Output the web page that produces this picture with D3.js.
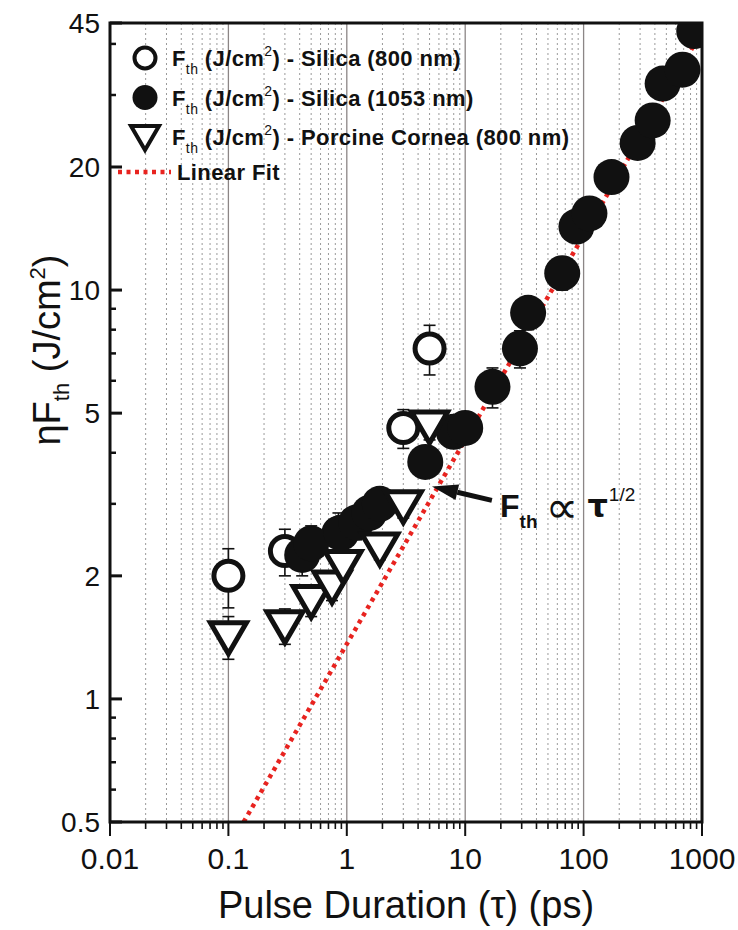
<!DOCTYPE html>
<html>
<head>
<meta charset="utf-8">
<script src="https://cdn.jsdelivr.net/npm/d3@7/dist/d3.min.js"></script>
<style>
  body { margin: 0; background: #fff; }
  text { font-family: "Liberation Sans", Arial, "DejaVu Sans", sans-serif; fill: #111; }
</style>
</head>
<body>
<div id="chart"></div>
<script>
// F_th (J/cm2) - Silica (800 nm), open circles
var silica800Tau = [0.1, 0.3, 0.85, 3, 5];
var silica800F   = [2.0, 2.3, 2.55, 4.6, 7.2];
var silica800Err = [0.33, 0.3, 0.3, 0.5, 1.0];

// F_th (J/cm2) - Silica (1053 nm), filled circles
var silica1053Tau = [0.42, 0.5, 0.9, 1.2, 1.55, 1.9, 4.6, 8, 10, 17, 29, 34, 66, 87, 112, 172, 286, 383, 465, 684, 860];
var silica1053F   = [2.25, 2.4, 2.55, 2.7, 2.85, 3.0, 3.8, 4.5, 4.6, 5.8, 7.2, 8.8, 11, 14.3, 15.4, 18.9, 22.9, 26, 32, 34.6, 43];
var silica1053Err = [0.25, 0.25, 0.25, 0.25, 0.25, 0.25, 0.3, 0.35, 0.4, 0.65, 0.75, 0.8, 1, 1.2, 1.3, 1.5, 1.8, 2, 2.5, 2.7, 3.3];

// F_th (J/cm2) - Porcine Cornea (800 nm), open down triangles
var corneaTau = [0.1, 0.3, 0.5, 0.75, 0.93, 1.9, 3, 5];
var corneaF   = [1.42, 1.51, 1.74, 1.89, 2.12, 2.34, 2.97, 4.65];
var corneaErr = [0.17, 0.15, 0.15, 0.15, 0.15, 0.15, 0.2, 0.35];

// Linear fit (slope 1/2 on log-log), end points
var fitTau = [0.1346, 1000];
var fitF   = [0.5, 43];

var xTicks = [0.01, 0.1, 1, 10, 100, 1000];
var xTickLabels = ["0.01", "0.1", "1", "10", "100", "1000"];
var yTicks = [0.5, 1, 2, 5, 10, 20, 45];
var yTickLabels = ["0.5", "1", "2", "5", "10", "20", "45"];
var yMinorTicks = [0.6, 0.7, 0.8, 0.9, 3, 4, 6, 7, 8, 9, 30, 40];

var legendLabels = ["Silica (800 nm)", "Silica (1053 nm)", "Porcine Cornea (800 nm)"];

var width = 738, height = 930;
var margin = { top: 23, right: 36, bottom: 108, left: 110 };

var xScale = d3.scaleLog().domain([0.01, 1000]).range([margin.left, width - margin.right]);
var yScale = d3.scaleLog().domain([0.5, 45]).range([height - margin.bottom, margin.top]);

var xMinor = [];
[0.01, 0.1, 1, 10, 100].forEach(function(d) {
  for (var k = 2; k <= 9; k++) xMinor.push(+(d * k).toPrecision(3));
});

var svg = d3.select("#chart").append("svg")
  .attr("width", width)
  .attr("height", height);

svg.append("defs").append("clipPath").attr("id", "plot")
  .append("rect")
  .attr("x", margin.left).attr("y", margin.top)
  .attr("width", width - margin.left - margin.right)
  .attr("height", height - margin.top - margin.bottom);

// vertical grid
svg.append("g").selectAll("line").data(xMinor).join("line")
  .attr("x1", d => xScale(d)).attr("x2", d => xScale(d))
  .attr("y1", margin.top).attr("y2", height - margin.bottom)
  .attr("stroke", "#9a9a9a").attr("stroke-width", 1)
  .attr("stroke-dasharray", "2,3");
svg.append("g").selectAll("line").data(xTicks.slice(1, -1)).join("line")
  .attr("x1", d => xScale(d)).attr("x2", d => xScale(d))
  .attr("y1", margin.top).attr("y2", height - margin.bottom)
  .attr("stroke", "#8c8686").attr("stroke-width", 1.3);

// linear fit
var plot = svg.append("g").attr("clip-path", "url(#plot)");
var line = d3.line().x(d => xScale(d[0])).y(d => yScale(d[1]));
plot.append("path")
  .attr("d", line(d3.zip(fitTau, fitF)))
  .attr("fill", "none")
  .attr("stroke", "#e8231f")
  .attr("stroke-width", 4.5)
  .attr("stroke-dasharray", "4,4.5");

function errorBars(g, tau, f, err) {
  var rows = d3.zip(tau, f, err);
  var eb = g.append("g").attr("stroke", "#111").attr("stroke-width", 1.6);
  eb.selectAll("line.v").data(rows).join("line").attr("class", "v")
    .attr("x1", d => xScale(d[0])).attr("x2", d => xScale(d[0]))
    .attr("y1", d => yScale(d[1] - d[2])).attr("y2", d => yScale(d[1] + d[2]));
  eb.selectAll("line.t").data(rows).join("line").attr("class", "t")
    .attr("x1", d => xScale(d[0]) - 6).attr("x2", d => xScale(d[0]) + 6)
    .attr("y1", d => yScale(d[1] + d[2])).attr("y2", d => yScale(d[1] + d[2]));
  eb.selectAll("line.b").data(rows).join("line").attr("class", "b")
    .attr("x1", d => xScale(d[0]) - 6).attr("x2", d => xScale(d[0]) + 6)
    .attr("y1", d => yScale(d[1] - d[2])).attr("y2", d => yScale(d[1] - d[2]));
}

var triPath = "M-18,-14L18,-14L0,17Z";

errorBars(plot, corneaTau, corneaF, corneaErr);
errorBars(plot, silica800Tau, silica800F, silica800Err);
errorBars(plot, silica1053Tau, silica1053F, silica1053Err);

plot.append("g").selectAll("circle").data(d3.zip(silica800Tau, silica800F)).join("circle")
  .attr("cx", d => xScale(d[0])).attr("cy", d => yScale(d[1]))
  .attr("r", 14.5)
  .attr("fill", "#fff").attr("stroke", "#111").attr("stroke-width", 5);

plot.append("g").selectAll("circle").data(d3.zip(silica1053Tau, silica1053F)).join("circle")
  .attr("cx", d => xScale(d[0])).attr("cy", d => yScale(d[1]))
  .attr("r", 18)
  .attr("fill", "#111");

plot.append("g").selectAll("path").data(d3.zip(corneaTau, corneaF)).join("path")
  .attr("d", triPath)
  .attr("transform", d => `translate(${xScale(d[0])},${yScale(d[1])})`)
  .attr("fill", "#fff").attr("stroke", "#111")
  .attr("stroke-width", 5).attr("stroke-linejoin", "miter");

// frame
var frame = svg.append("g").attr("fill", "none").attr("stroke", "#111");
frame.append("rect")
  .attr("x", margin.left).attr("y", margin.top)
  .attr("width", width - margin.left - margin.right)
  .attr("height", height - margin.top - margin.bottom)
  .attr("stroke-width", 3);

// x axis ticks (outside)
var yb = height - margin.bottom;
frame.selectAll("line.xmaj").data(xTicks).join("line").attr("class", "xmaj")
  .attr("x1", d => xScale(d)).attr("x2", d => xScale(d))
  .attr("y1", yb).attr("y2", yb + 14).attr("stroke-width", 2);
frame.selectAll("line.xmin").data(xMinor).join("line").attr("class", "xmin")
  .attr("x1", d => xScale(d)).attr("x2", d => xScale(d))
  .attr("y1", yb).attr("y2", yb + 7).attr("stroke-width", 1.6);

// y axis ticks (inside)
frame.selectAll("line.ymaj").data(yTicks).join("line").attr("class", "ymaj")
  .attr("x1", margin.left).attr("x2", margin.left + 12)
  .attr("y1", d => yScale(d)).attr("y2", d => yScale(d)).attr("stroke-width", 3);
frame.selectAll("line.ymin").data(yMinorTicks).join("line").attr("class", "ymin")
  .attr("x1", margin.left).attr("x2", margin.left + 6)
  .attr("y1", d => yScale(d)).attr("y2", d => yScale(d)).attr("stroke-width", 2.5);

// tick labels
svg.append("g").selectAll("text").data(xTicks).join("text")
  .attr("x", d => xScale(d)).attr("y", yb + 47)
  .attr("text-anchor", "middle").attr("font-size", 30)
  .text((d, i) => xTickLabels[i]);
svg.append("g").selectAll("text").data(yTicks).join("text")
  .attr("x", margin.left - 10).attr("y", d => yScale(d) + 10)
  .attr("text-anchor", "end").attr("font-size", 28)
  .text((d, i) => yTickLabels[i]);

// axis titles
svg.append("text")
  .attr("x", (margin.left + width - margin.right) / 2).attr("y", 918)
  .attr("text-anchor", "middle").attr("font-size", 38)
  .text("Pulse Duration (τ) (ps)");

var yTitle = svg.append("text")
  .attr("transform", "translate(60,350) rotate(-90)")
  .attr("text-anchor", "middle").attr("font-size", 38);
yTitle.append("tspan").text("ηF");
yTitle.append("tspan").attr("font-size", 22).attr("dy", 9).text("th");
yTitle.append("tspan").attr("dy", -9).text(" (J/cm");
yTitle.append("tspan").attr("font-size", 22).attr("dy", -15).text("2");
yTitle.append("tspan").attr("dy", 15).text(")");

// legend
var legend = svg.append("g").attr("transform", "translate(145,58)");
var rowGap = 39.5;
legend.append("circle").attr("cx", 0).attr("cy", 0).attr("r", 10.5)
  .attr("fill", "#fff").attr("stroke", "#111").attr("stroke-width", 4);
legend.append("circle").attr("cx", 0).attr("cy", rowGap).attr("r", 12.5).attr("fill", "#111");
legend.append("path").attr("d", "M-14,-11L14,-11L0,13Z")
  .attr("transform", `translate(0,${rowGap * 2})`)
  .attr("fill", "#fff").attr("stroke", "#111").attr("stroke-width", 4);
legend.append("line").attr("x1", -27).attr("x2", 26)
  .attr("y1", rowGap * 2 + 35).attr("y2", rowGap * 2 + 35)
  .attr("stroke", "#e8231f").attr("stroke-width", 4.5).attr("stroke-dasharray", "4,4.5");

legendLabels.forEach(function(lab, i) {
  var t = legend.append("text")
    .attr("x", 27).attr("y", i * rowGap + 8)
    .attr("font-size", 22).attr("font-weight", "bold")
    .attr("letter-spacing", 0.4);
  t.append("tspan").text("F");
  t.append("tspan").attr("font-size", 14).attr("font-weight", "normal").attr("dy", 8).text("th");
  t.append("tspan").attr("dy", -8).text(" (J/cm");
  t.append("tspan").attr("font-size", 14).attr("font-weight", "normal").attr("dy", -10).text("2");
  t.append("tspan").attr("dy", 10).text(") - " + lab);
});
legend.append("text")
  .attr("x", 32).attr("y", rowGap * 2 + 43)
  .attr("font-size", 22).attr("font-weight", "bold")
  .attr("letter-spacing", 0.4)
  .text("Linear Fit");

// annotation  F_th ∝ τ^(1/2)
var arrowTip = [5.24, 3.31], arrowTail = [16.8, 3.06];
var tip = [xScale(arrowTip[0]), yScale(arrowTip[1])];
var tail = [xScale(arrowTail[0]), yScale(arrowTail[1])];
var dx = tip[0] - tail[0], dy = tip[1] - tail[1];
var len = Math.sqrt(dx * dx + dy * dy);
var ux = dx / len, uy = dy / len;
var headLen = 26, headHalf = 8;
var bx = tip[0] - ux * headLen, by = tip[1] - uy * headLen;
svg.append("line")
  .attr("x1", tail[0]).attr("y1", tail[1]).attr("x2", bx).attr("y2", by)
  .attr("stroke", "#111").attr("stroke-width", 5);
svg.append("path")
  .attr("d", `M${tip[0]},${tip[1]}L${bx - uy * headHalf},${by + ux * headHalf}L${bx + uy * headHalf},${by - ux * headHalf}Z`)
  .attr("fill", "#111");

var ann = svg.append("text")
  .attr("x", xScale(19.7)).attr("y", yScale(2.79))
  .attr("font-size", 32).attr("font-weight", "bold");
ann.append("tspan").text("F");
ann.append("tspan").attr("font-size", 19).attr("dy", 11).text("th");
ann.append("tspan").attr("dy", -5).attr("dx", 8)
  .attr("font-family", "DejaVu Sans, sans-serif").attr("font-weight", "normal")
  .attr("font-size", 46).text("∝");
ann.append("tspan").attr("dx", 9).attr("dy", -6).attr("font-family", "DejaVu Sans, sans-serif").text("τ");
ann.append("tspan").attr("font-size", 19).attr("font-weight", "normal").attr("dy", -16).attr("dx", 1).text("1/2");
</script>
</body>
</html>
